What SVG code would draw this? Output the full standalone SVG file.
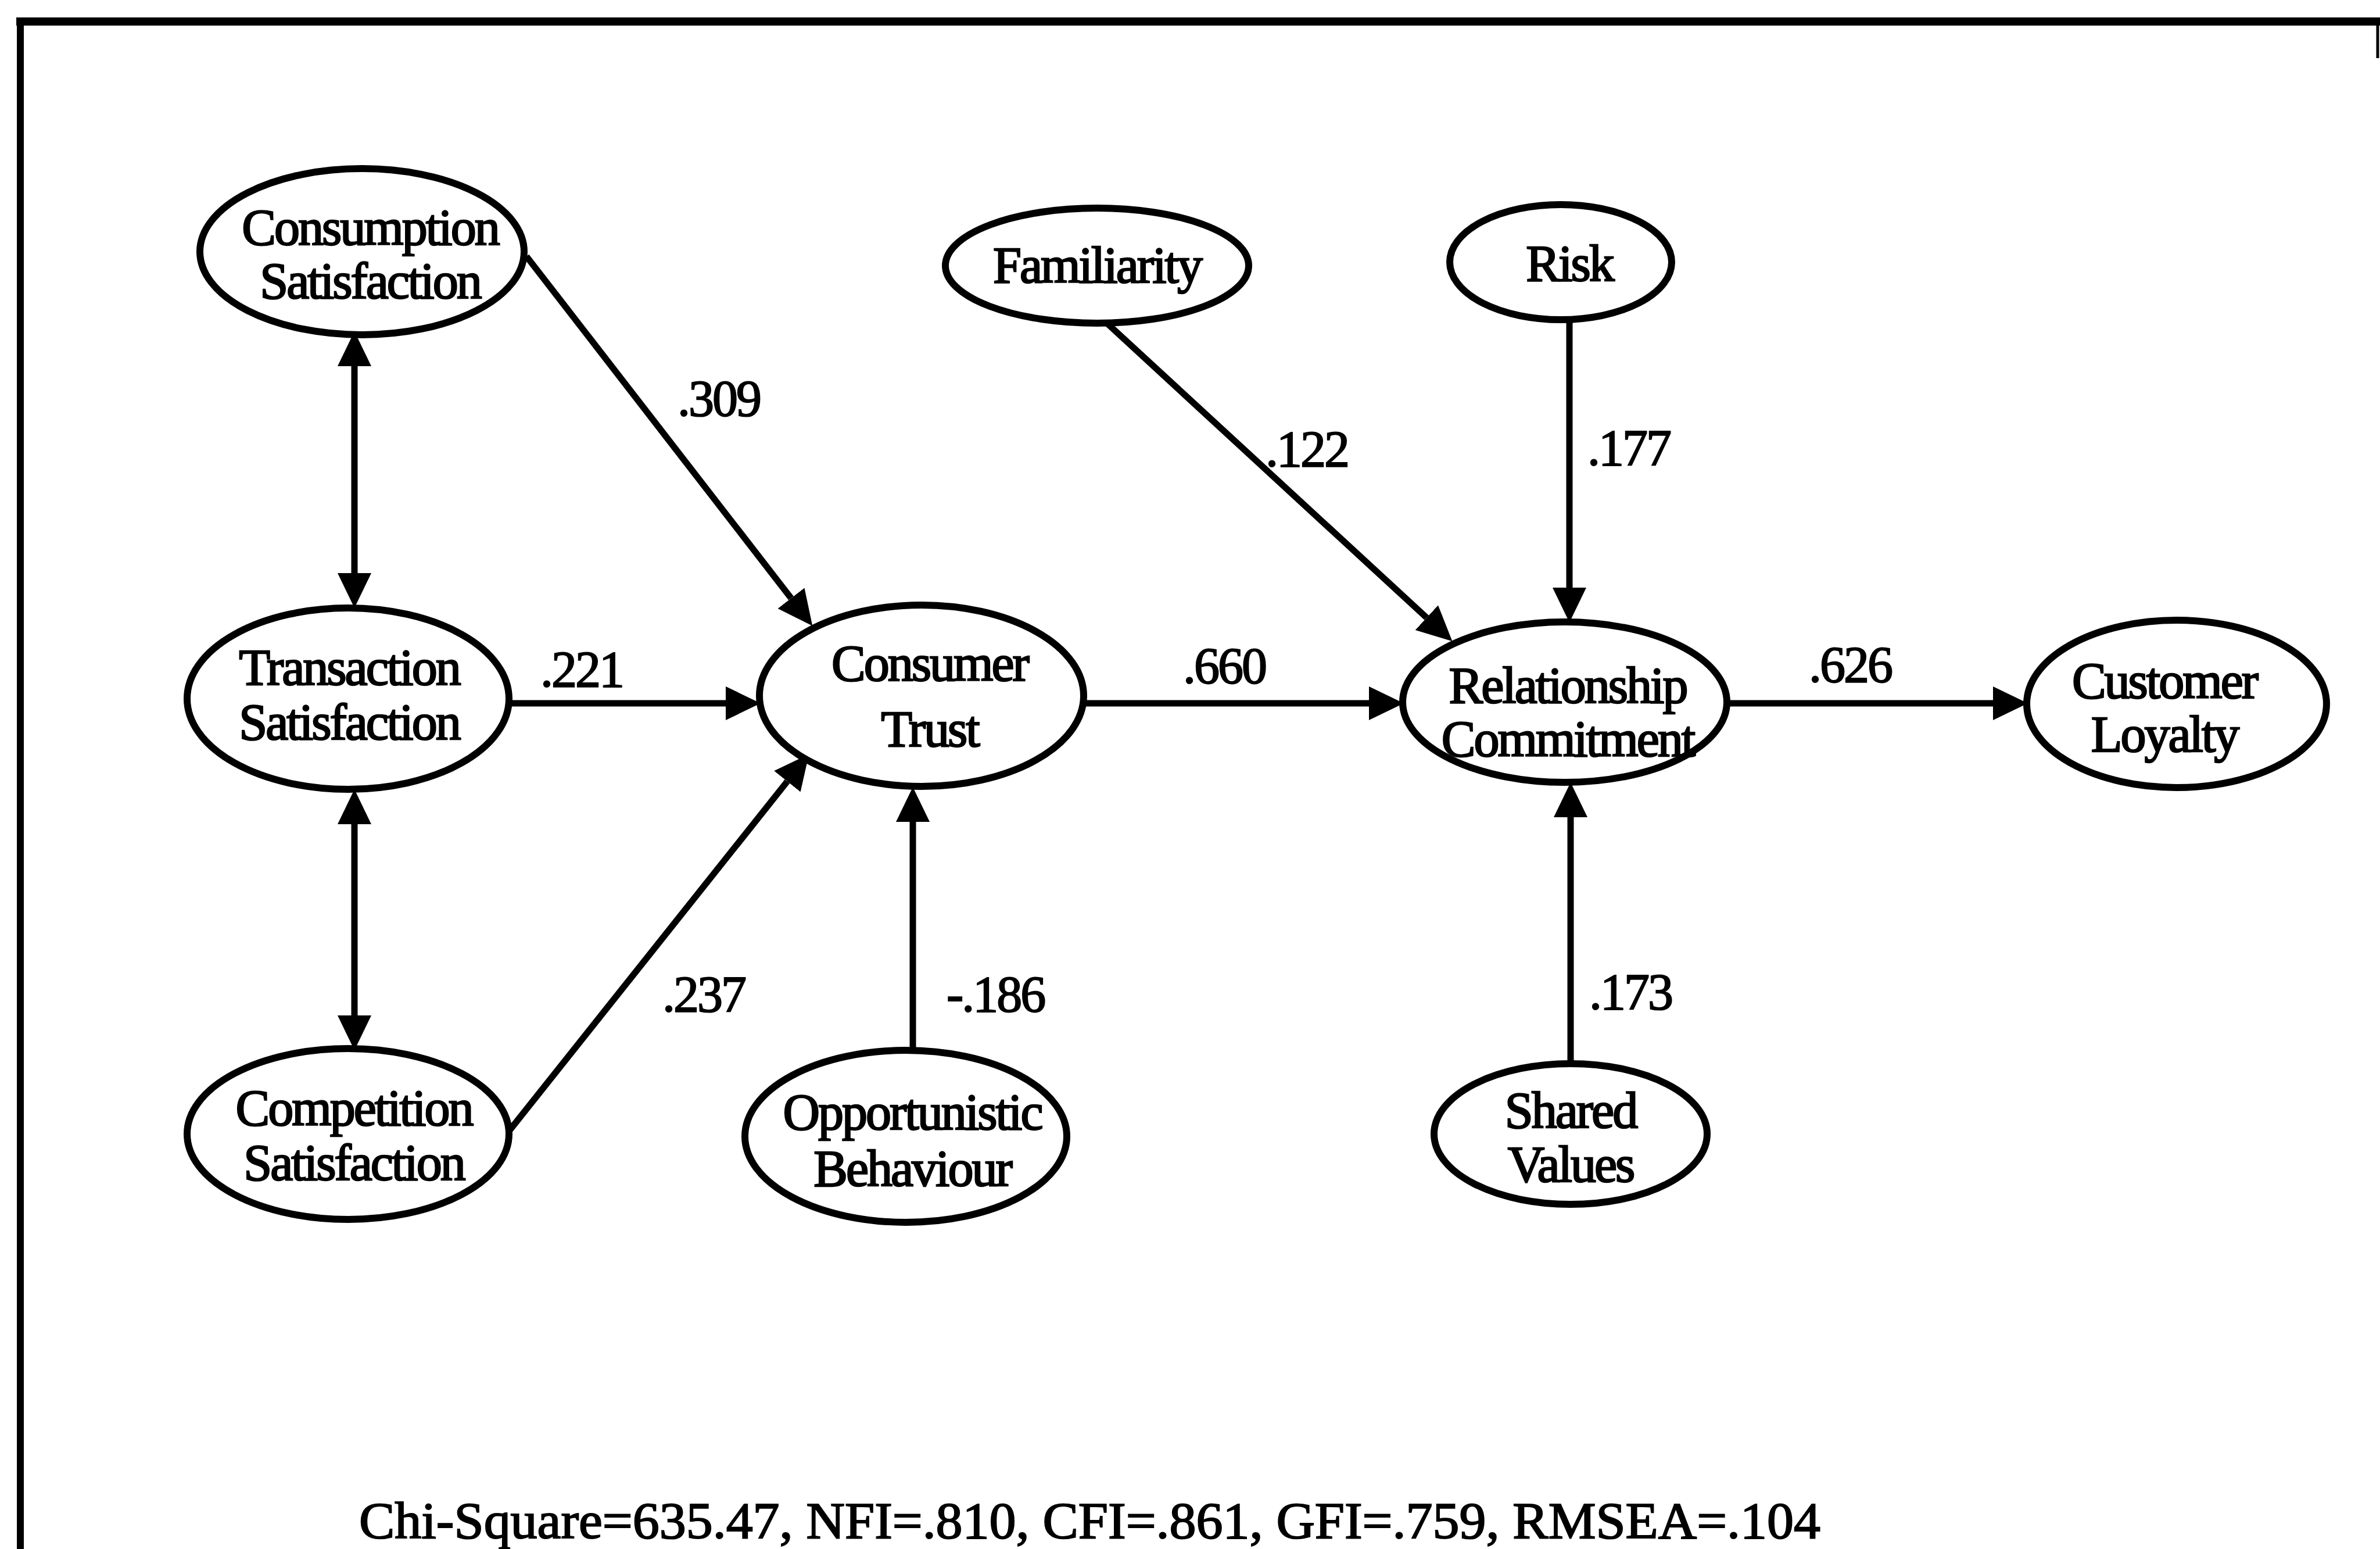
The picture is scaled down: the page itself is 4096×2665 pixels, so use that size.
<svg xmlns="http://www.w3.org/2000/svg" width="4096" height="2665" viewBox="0 0 4096 2665">
<style>
.frame{stroke:#000;fill:none}
.node ellipse{fill:#fff;stroke:#000;stroke-width:12}
.node text{font-family:"Liberation Serif","Times New Roman",serif;font-size:88px;letter-spacing:-3px;text-anchor:middle;fill:#000;stroke:#000;stroke-width:2.5}
.conn line{stroke:#000;stroke-width:11;fill:none}
.lbl{font-family:"Liberation Serif","Times New Roman",serif;font-size:88px;letter-spacing:-3px;fill:#000;stroke:#000;stroke-width:2}
.mid{text-anchor:middle}
</style>
<defs>
<marker id="ah" markerUnits="userSpaceOnUse" markerWidth="60" markerHeight="60" viewBox="0 0 60 60" refX="0" refY="30" orient="auto-start-reverse">
<path d="M0,1 L60,30 L0,59 Z" fill="#000"/>
</marker>
</defs>
<rect width="4096" height="2665" fill="#fff"/>
<g id="border">
<line class="frame" x1="28" y1="37" x2="4096" y2="37" stroke-width="14"/>
<line class="frame" x1="35" y1="30" x2="35" y2="2665" stroke-width="12"/>
<line class="frame" x1="4092" y1="37" x2="4092" y2="100" stroke-width="5"/>
</g>
<g id="connectors" class="conn">
<line x1="906" y1="441" x2="1361.5" y2="1029.2" marker-end="url(#ah)"/>
<line x1="876" y1="1210" x2="1249" y2="1210" marker-end="url(#ah)"/>
<line x1="876" y1="1946" x2="1354.9" y2="1344.4" marker-end="url(#ah)"/>
<line x1="1571" y1="1808" x2="1571" y2="1414" marker-end="url(#ah)"/>
<line x1="1865" y1="1210" x2="2356" y2="1210" marker-end="url(#ah)"/>
<line x1="1905" y1="556" x2="2455.3" y2="1062.7" marker-end="url(#ah)"/>
<line x1="2701" y1="551" x2="2701" y2="1011" marker-end="url(#ah)"/>
<line x1="2703" y1="1830" x2="2703" y2="1406" marker-end="url(#ah)"/>
<line x1="2972" y1="1210" x2="3430" y2="1210" marker-end="url(#ah)"/>
<line x1="610" y1="630" x2="610" y2="986" marker-start="url(#ah)" marker-end="url(#ah)"/>
<line x1="610" y1="1418" x2="610" y2="1747" marker-start="url(#ah)" marker-end="url(#ah)"/>
</g>
<g id="labels" class="lbl">
<text class="mid" x="1237" y="715">.309</text>
<text class="mid" x="1001" y="1181">.221</text>
<text class="mid" x="1211" y="1740">.237</text>
<text x="1629" y="1740">-.186</text>
<text class="mid" x="2107" y="1175">.660</text>
<text class="mid" x="2249" y="802">.122</text>
<text x="2732" y="800">.177</text>
<text x="2735" y="1736">.173</text>
<text class="mid" x="3184" y="1173">.626</text>
</g>
<g id="n-consumption" class="node">
<ellipse cx="623" cy="433" rx="279" ry="143"/>
<text x="637" y="421">Consumption</text>
<text x="637" y="513">Satisfaction</text>
</g>
<g id="n-transaction" class="node">
<ellipse cx="599" cy="1202" rx="277" ry="156"/>
<text x="601" y="1178">Transaction</text>
<text x="601" y="1272">Satisfaction</text>
</g>
<g id="n-competition" class="node">
<ellipse cx="599" cy="1951" rx="277" ry="147"/>
<text x="609" y="1936">Competition</text>
<text x="609" y="2030">Satisfaction</text>
</g>
<g id="n-trust" class="node">
<ellipse cx="1586" cy="1197" rx="279" ry="156"/>
<text x="1600" y="1171">Consumer</text>
<text x="1600" y="1284">Trust</text>
</g>
<g id="n-opportunistic" class="node">
<ellipse cx="1559" cy="1955" rx="277" ry="148"/>
<text x="1570" y="1943">Opportunistic</text>
<text x="1570" y="2040">Behaviour</text>
</g>
<g id="n-familiarity" class="node">
<ellipse cx="1888" cy="457" rx="261" ry="99"/>
<text x="1888" y="486">Familiarity</text>
</g>
<g id="n-risk" class="node">
<ellipse cx="2686" cy="451" rx="191" ry="99"/>
<text x="2701" y="483">Risk</text>
</g>
<g id="n-commitment" class="node">
<ellipse cx="2693" cy="1208" rx="279" ry="138"/>
<text x="2698" y="1209">Relationship</text>
<text x="2698" y="1301">Commitment</text>
</g>
<g id="n-loyalty" class="node">
<ellipse cx="3746" cy="1211" rx="258" ry="144"/>
<text x="3725" y="1201">Customer</text>
<text x="3725" y="1293">Loyalty</text>
</g>
<g id="n-shared" class="node">
<ellipse cx="2703" cy="1951" rx="235" ry="121"/>
<text x="2703" y="1940">Shared</text>
<text x="2703" y="2033">Values</text>
</g>
<text class="lbl" x="618" y="2646" textLength="2515" lengthAdjust="spacingAndGlyphs" style="letter-spacing:0">Chi-Square=635.47, NFI=.810, CFI=.861, GFI=.759, RMSEA=.104</text>
</svg>
